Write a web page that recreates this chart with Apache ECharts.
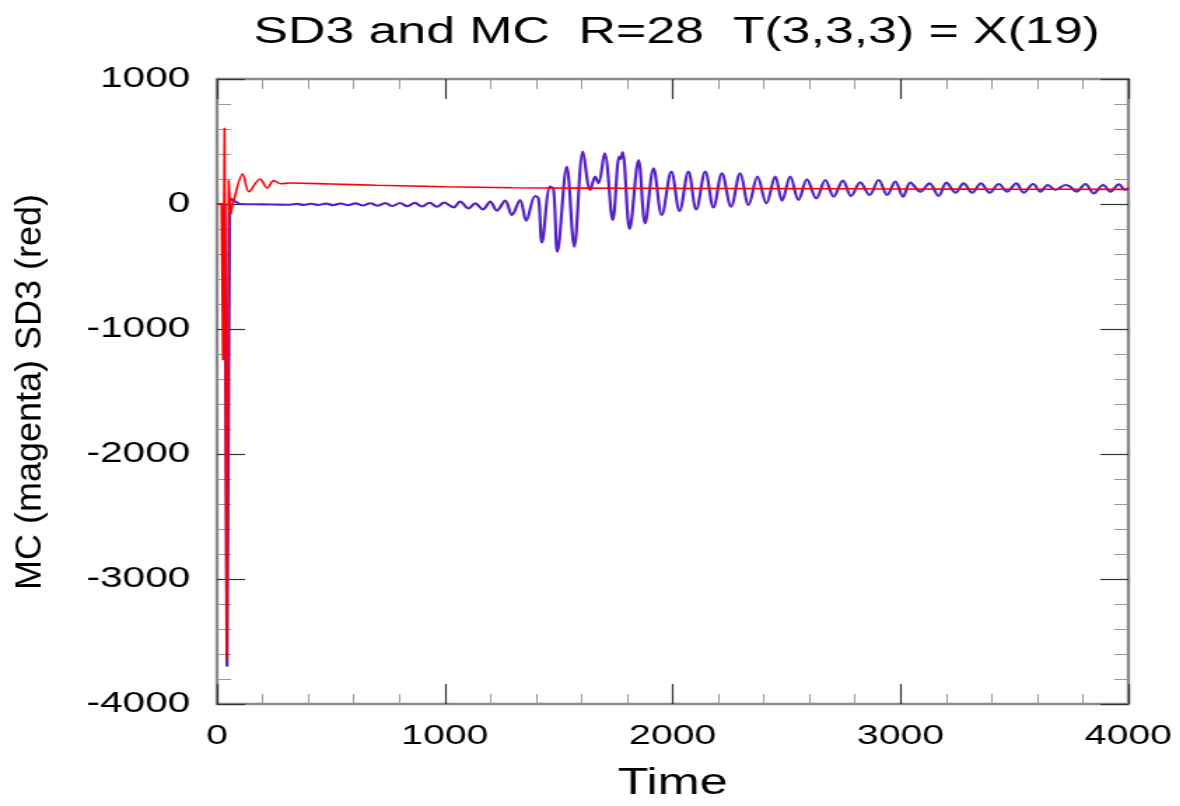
<!DOCTYPE html>
<html>
<head>
<meta charset="utf-8">
<script src="https://cdn.jsdelivr.net/npm/echarts@6/dist/echarts.min.js"></script>
<style>
  html, body { margin: 0; padding: 0; background: #fff; }
  #wrap { width: 1180px; height: 806px; overflow: hidden; position: relative; background: #fff; }
  #chart { width: 843px; height: 806px; transform: scaleX(1.4); transform-origin: 0 0; }
</style>
</head>
<body>
<div id="wrap"><div id="chart"></div></div>
<script>
// ---------- data ----------
const titleText = 'SD3 and MC  R=28  T(3,3,3) = X(19)';
const xName = 'Time';
const yName = 'MC (magenta) SD3 (red)';
const xTickLabels = ['0', '1000', '2000', '3000', '4000'];
const yTickLabels = ['-4000', '-3000', '-2000', '-1000', '0', '1000'];

// SD3 (red): initial spike
const sd3Spike = [
  [0, 0], [20, 0], [26, -1250], [33, 610], [43, -3650], [51, 190], [60, -80]
];
// SD3 (red): damped ringing and slow tail
const sd3Tail = [
  [60, -80], [75, 40], [113, 240], [140, 98], [189, 200], [220, 128], [249, 187],
  [280, 162], [320, 168], [500, 160], [700, 150], [1000, 138], [1300, 130],
  [1600, 127], [2000, 125], [2500, 123], [3000, 120], [3500, 118], [4000, 117]
];
// MC (blue/magenta): initial spike
const mcSpike = [
  [0, 0], [34, 0], [44, -3700], [56, 45], [62, 60], [75, 25], [100, 0]
];
// MC (blue/magenta): ripples, burst and ringing
const mcTail = [
  [100, 0], [150, -2], [250, -4], [320, -6], [350, 1], [380, -7], [413, 2], [445, -8],
  [478, 3], [510, -9], [543, 4], [575, -10], [608, 5], [640, -12], [673, 6], [705, -14],
  [738, 7], [770, -16], [803, 8], [835, -18], [868, 9], [900, -20], [933, 10], [965, -22],
  [997, 11], [1038, -27], [1067, 19], [1104, -35], [1133, 5], [1167, -43], [1199, 19],
  [1228, -53], [1265, 27], [1294, -88], [1330, 32], [1357, -133], [1396, 64], [1411, 45],
  [1426, -307], [1462, 139], [1477, 117], [1494, -381], [1535, 299], [1568, -341],
  [1606, 419], [1638, 112], [1660, 219], [1674, 165], [1701, 405], [1737, -128],
  [1765, 380], [1771, 360], [1780, 415], [1811, -200], [1850, 352], [1879, -155],
  [1916, 285], [1952, -88], [1994, 259], [2030, -56], [2069, 259], [2103, -43],
  [2143, 259], [2179, -27], [2216, 245], [2256, -21], [2296, 245], [2333, -8],
  [2372, 219], [2411, 5], [2450, 219], [2480, 27], [2516, 219], [2552, 32],
  [2589, 197], [2630, 45], [2670, 192], [2706, 59], [2747, 187], [2783, 64],
  [2823, 173], [2864, 72], [2904, 192], [2941, 72], [2977, 179], [3011, 59],
  [3043, 171], [3087, 99], [3127, 165], [3167, 64], [3201, 171], [3241, 91],
  [3277, 165], [3314, 91], [3353, 165], [3391, 91], [3431, 160], [3468, 99],
  [3508, 165], [3540, 91], [3582, 160], [3614, 99], [3646, 152], [3680, 112],
  [3724, 152], [3742, 141], [3772, 99], [3811, 160], [3848, 85], [3889, 152],
  [3921, 99], [3958, 157], [3987, 112], [4000, 130]
];

// ---------- chart ----------
const FONT = '"Liberation Sans", Arial, sans-serif';
const frameColor = '#8a8a8a';
const majorTickColor = '#333';
const minorTickColor = '#999';

function frameAxis(extra) {
  return Object.assign({
    type: 'value',
    axisLine: { show: true, onZero: false, lineStyle: { color: frameColor, width: 2.4 } },
    axisTick: { show: true, inside: true, length: 20, lineStyle: { color: majorTickColor, width: 1.2 } },
    minorTick: { show: true, splitNumber: 5, length: 10, lineStyle: { color: minorTickColor, width: 1 } },
    splitLine: { show: false },
    minorSplitLine: { show: false }
  }, extra);
}

const chart = echarts.init(document.getElementById('chart'), null, { renderer: 'canvas' });
chart.setOption({
  backgroundColor: '#fff',
  animation: false,
  title: {
    text: titleText,
    left: 176,
    top: 9,
    padding: 5,
    textStyle: { fontFamily: FONT, fontSize: 37, fontWeight: 'normal', color: '#000' }
  },
  graphic: [{
    type: 'text',
    x: 22,
    y: 392,
    rotation: Math.PI / 2,
    scaleX: 1,
    scaleY: 0.74,
    silent: true,
    style: {
      text: yName,
      font: '36px "Liberation Sans", Arial, sans-serif',
      fill: '#000',
      align: 'center',
      verticalAlign: 'middle',
      textAlign: 'center',
      textVerticalAlign: 'middle'
    }
  }],
  grid: { left: 155, right: 37, top: 79, bottom: 102, containLabel: false, outerBoundsMode: 'none' },
  xAxis: [
    frameAxis({
      position: 'bottom', min: 0, max: 4000, interval: 1000,
      axisLabel: {
        show: true, margin: 18, fontSize: 28, fontFamily: FONT, color: '#000',
        showMinLabel: true, showMaxLabel: true,
        formatter: v => xTickLabels[Math.round(v / 1000)]
      },
      name: xName, nameLocation: 'middle', nameGap: 62,
      nameTextStyle: { fontFamily: FONT, fontSize: 36, color: '#000' }
    }),
    frameAxis({
      position: 'top', min: 0, max: 4000, interval: 1000,
      axisLabel: { show: false }
    })
  ],
  yAxis: [
    frameAxis({
      position: 'left', min: -4000, max: 1000, interval: 1000,
      axisLabel: {
        show: true, margin: 19, fontSize: 29, fontFamily: FONT, color: '#000',
        showMinLabel: true, showMaxLabel: true,
        formatter: v => yTickLabels[Math.round((v + 4000) / 1000)]
      }
    }),
    frameAxis({
      position: 'right', min: -4000, max: 1000, interval: 1000,
      axisLabel: { show: false }
    })
  ],
  series: [
    { type: 'line', data: mcSpike, showSymbol: false, lineStyle: { color: '#5522c8', width: 2.2 }, z: 2 },
    { type: 'line', data: mcTail, showSymbol: false, smooth: 0.35, lineStyle: { color: '#5522c8', width: 2.2 }, z: 2 },
    { type: 'line', data: sd3Spike, showSymbol: false, lineStyle: { color: '#ff0000', width: 1.6 }, z: 3 },
    { type: 'line', data: sd3Tail, showSymbol: false, smooth: 0.35, lineStyle: { color: '#ff0000', width: 1.6 }, z: 3 }
  ]
});
</script>
</body>
</html>
